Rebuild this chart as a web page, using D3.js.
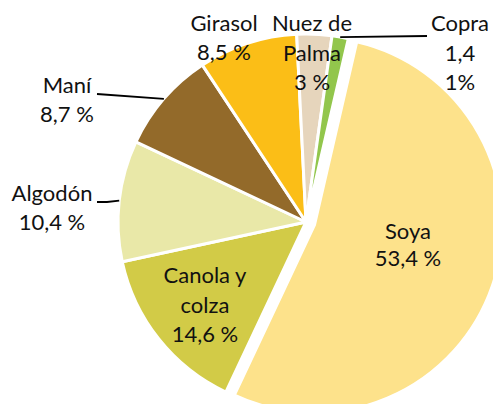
<!DOCTYPE html>
<html>
<head>
<meta charset="utf-8">
<script src="https://cdn.jsdelivr.net/npm/d3@7/dist/d3.min.js"></script>
<style>
html,body{margin:0;padding:0;background:#fff;}
svg{display:block;}
text{font-family:Lato,"Open Sans",sans-serif;font-size:22px;fill:#111;}
</style>
</head>
<body>
<svg id="chart" width="493" height="404"></svg>
<script>
// ---- data ----
const categories = ["Soya", "Canola y colza", "Algodón", "Maní", "Girasol", "Nuez de Palma", "Copra"];
const values = [53.4, 14.6, 10.4, 8.7, 8.5, 3, 1.4];
const labelLines = [
  ["Soya", "53,4 %"],
  ["Canola y", "colza", "14,6 %"],
  ["Algodón", "10,4 %"],
  ["Maní", "8,7 %"],
  ["Girasol", "8,5 %"],
  ["Nuez de", "Palma", "3 %"],
  ["Copra", "1,4", "1%"]
];
const colors = ["#FDE28B", "#D2CB47", "#E9E8A8", "#936A2A", "#FBBE17", "#E6D5BC", "#92C64C"];

// ---- layout ----
const W = 493, H = 404;
const cx = 306, cy = 222, R = 188;
const startDeg = 13;
const explode = [9, 0, 0, 0, 0, 0, 0];
const labelPos = [
  {x: 408, y: 239, lh: 27},
  {x: 205, y: 283, lh: 29.5},
  {x: 52, y: 201, lh: 29},
  {x: 67, y: 93, lh: 29},
  {x: 224, y: 31, lh: 29},
  {x: 312, y: 31, lh: 29.5},
  {x: 460, y: 31, lh: 29.5}
];
// leader lines: label-side points (arc-side point computed from the arc)
const leaders = [
  null, null,
  [[97, 202], [107, 202]],
  [[97, 94]],
  null, null,
  [[427, 36]]
];

const svg = d3.select("#chart");
const g = svg.append("g").attr("transform", `translate(${cx},${cy})`);

const start = startDeg * Math.PI / 180;
const pie = d3.pie().sort(null).value(d => d.v)
  .startAngle(start).endAngle(start + 2 * Math.PI);
const data = categories.map((c, i) => ({c, v: values[i], i}));
const arcs = pie(data);
const arc = d3.arc().innerRadius(0).outerRadius(R);

g.selectAll("path.slice").data(arcs).enter().append("path")
  .attr("class", "slice")
  .attr("d", arc)
  .attr("fill", d => colors[d.data.i])
  .attr("stroke", "#fff")
  .attr("stroke-width", 3)
  .attr("stroke-linejoin", "round")
  .attr("transform", d => {
    const m = (d.startAngle + d.endAngle) / 2;
    const e = explode[d.data.i];
    return `translate(${e * Math.sin(m)},${-e * Math.cos(m)})`;
  });

// leader lines
arcs.forEach(d => {
  const L = leaders[d.data.i];
  if (!L) return;
  const m = (d.startAngle + d.endAngle) / 2;
  const p = [cx + R * Math.sin(m), cy - R * Math.cos(m)];
  const pts = L.concat([p]);
  svg.append("path")
    .attr("d", d3.line()(pts))
    .attr("fill", "none")
    .attr("stroke", "#000")
    .attr("stroke-width", 1.8);
});

// labels
arcs.forEach(d => {
  const i = d.data.i;
  const lp = labelPos[i];
  const t = svg.append("text").attr("text-anchor", "middle");
  labelLines[i].forEach((s, k) => {
    t.append("tspan").attr("x", lp.x).attr("y", lp.y + k * lp.lh).text(s);
  });
});
</script>
</body>
</html>
